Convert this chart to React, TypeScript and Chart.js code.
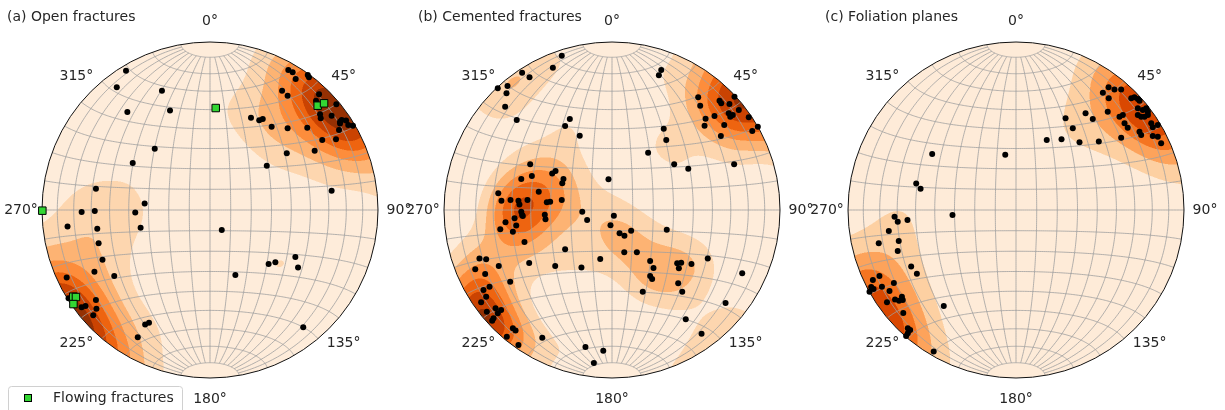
import React, { useEffect, useRef } from "react";
import { Chart, registerables } from "chart.js";

Chart.register(...registerables);

// ---------- data (equal-area net coordinates, unit primitive circle) ----------
const azimuths = [0, 45, 90, 135, 180, 225, 270, 315];
const azimuthLabels = ["0°", "45°", "90°", "135°", "180°", "225°", "270°", "315°"];
const panelTitles = ["(a) Open fractures", "(b) Cemented fractures", "(c) Foliation planes"];
const legendLabel = "Flowing fractures";

const openX = [-0.5, -0.555, -0.286, -0.492, -0.238, 0.466, 0.492, 0.51, 0.582, 0.589, 0.429, 0.462, 0.649, 0.631, 0.752, 0.655, 0.659, 0.724, 0.774, 0.784, 0.81, 0.774, 0.823, 0.851, 0.768, 0.244, 0.293, 0.314, 0.367, 0.462, 0.579, 0.668, 0.75, 0.457, 0.623, 0.338, -0.329, -0.46, 0.724, -0.679, -0.389, -0.764, -0.686, -0.445, -0.848, -0.671, -0.413, -0.663, -0.64, -0.688, -0.57, -0.853, -0.842, -0.764, -0.741, -0.679, -0.676, -0.695, -0.386, -0.363, -0.43, 0.07, 0.151, 0.349, 0.389, 0.508, 0.524, 0.555];
const openY = [0.829, 0.73, 0.71, 0.583, 0.593, 0.833, 0.82, 0.78, 0.804, 0.79, 0.71, 0.68, 0.689, 0.651, 0.629, 0.57, 0.546, 0.561, 0.526, 0.536, 0.532, 0.515, 0.506, 0.502, 0.476, 0.549, 0.534, 0.542, 0.496, 0.486, 0.49, 0.417, 0.421, 0.338, 0.353, 0.264, 0.365, 0.28, 0.115, 0.127, 0.038, -0.012, -0.006, -0.015, -0.098, -0.111, -0.105, -0.198, -0.296, -0.367, -0.393, -0.402, -0.526, -0.579, -0.571, -0.536, -0.588, -0.627, -0.682, -0.671, -0.758, -0.119, -0.387, -0.321, -0.311, -0.28, -0.343, -0.698];

const flowingX = [0.034, 0.641, 0.679, -0.998, -0.814, -0.798, -0.813];
const flowingY = [0.607, 0.621, 0.635, -0.004, -0.516, -0.518, -0.56];

const cementedX = [-0.299, -0.352, -0.535, -0.491, -0.68, -0.622, -0.628, -0.636, -0.567, -0.251, -0.279, -0.192,
  0.293, 0.279, 0.308, 0.323, 0.215, 0.37, 0.454, 0.727, -0.021,
  0.513, 0.525, 0.64, 0.65, 0.699, 0.729, 0.557, 0.61, 0.695, 0.704, 0.719, 0.755, 0.668, 0.551, 0.814, 0.868, 0.835, 0.648,
  -0.487, -0.54, -0.477, -0.356, -0.336, -0.289, -0.296, -0.436, -0.677, -0.658, -0.604, -0.557, -0.551, -0.503, -0.388, -0.368, -0.299, -0.54, -0.535, -0.531, -0.4, -0.396, -0.634, -0.58, -0.665, -0.59, -0.57, -0.521, -0.279,
  -0.177, -0.148, 0.011, -0.009, 0.045, 0.074, 0.114, 0.326, 0.073, 0.148, -0.07, -0.182, -0.338, -0.493, 0.227, 0.247, 0.227, 0.239, 0.183, 0.388, 0.412, 0.398, 0.473, 0.57, 0.394, 0.418, 0.775, 0.676, 0.439, 0.533, -0.158, -0.052, -0.108, -0.415,
  -0.789, -0.749, -0.814, -0.674, -0.755, -0.729, -0.765, -0.606, -0.749, -0.779, -0.693, -0.66, -0.68, -0.705, -0.713, -0.745, -0.59, -0.574, -0.626, -0.557];
const cementedY = [0.918, 0.847, 0.817, 0.79, 0.724, 0.738, 0.695, 0.615, 0.536, 0.542, 0.5, 0.442,
  0.833, 0.802, 0.484, 0.417, 0.341, 0.272, 0.246, 0.272, 0.183,
  0.671, 0.621, 0.651, 0.635, 0.631, 0.674, 0.543, 0.56, 0.576, 0.555, 0.565, 0.595, 0.506, 0.502, 0.552, 0.496, 0.47, 0.44,
  0.272, 0.185, 0.202, 0.218, 0.232, 0.185, 0.159, 0.109, 0.099, 0.055, 0.06, 0.055, 0.032, 0.06, 0.046, 0.049, 0.06, -0.01, -0.03, -0.036, -0.028, -0.055, -0.073, -0.049, -0.115, -0.129, -0.093, -0.19, -0.234,
  -0.01, -0.06, -0.034, -0.091, -0.139, -0.153, -0.123, -0.117, -0.252, -0.252, -0.292, -0.343, -0.333, -0.315, -0.304, -0.345, -0.393, -0.411, -0.486, -0.317, -0.314, -0.347, -0.321, -0.288, -0.436, -0.486, -0.377, -0.554, -0.651, -0.736, -0.815, -0.838, -0.911, -0.76,
  -0.288, -0.293, -0.353, -0.333, -0.381, -0.457, -0.476, -0.427, -0.516, -0.549, -0.585, -0.595, -0.615, -0.645, -0.659, -0.605, -0.704, -0.718, -0.754, -0.804];

const foliationX = [0.551, 0.586, 0.626, 0.517, 0.552, 0.686, 0.705, 0.725, 0.735, 0.546, 0.636, 0.616, 0.725, 0.755, 0.775, 0.785, 0.725, 0.745, 0.765, 0.785, 0.646, 0.665, 0.805, 0.814, 0.844, 0.735, 0.745, 0.814, 0.844, 0.864, 0.626, 0.295, 0.414, 0.457, 0.338, 0.183, 0.271, 0.378, 0.493, -0.499, -0.064, -0.594, -0.568, -0.723, -0.704, -0.646, -0.378, -0.757, -0.817, -0.698, -0.704, -0.624, -0.59, -0.43, -0.813, -0.852, -0.862, -0.848, -0.798, -0.727, -0.753, -0.768, -0.72, -0.696, -0.679, -0.674, -0.671, -0.644, -0.63, -0.644, -0.654, -0.49, -0.872];
const foliationY = [0.73, 0.718, 0.718, 0.698, 0.665, 0.665, 0.671, 0.661, 0.651, 0.585, 0.565, 0.555, 0.605, 0.595, 0.605, 0.585, 0.565, 0.555, 0.555, 0.565, 0.516, 0.49, 0.516, 0.492, 0.506, 0.466, 0.446, 0.44, 0.436, 0.397, 0.43, 0.546, 0.576, 0.542, 0.486, 0.417, 0.421, 0.403, 0.407, 0.333, 0.329, 0.157, 0.127, -0.04, -0.07, -0.06, -0.03, -0.125, -0.198, -0.185, -0.244, -0.336, -0.379, -0.571, -0.393, -0.417, -0.458, -0.47, -0.457, -0.435, -0.482, -0.549, -0.532, -0.54, -0.516, -0.536, -0.613, -0.704, -0.714, -0.734, -0.75, -0.843, -0.486];

// ---------- helpers ----------
const FONT = '14px "DejaVu Sans", sans-serif';
const TEXT = "#262626";
const GRID = "#a0a0a0";
const ORANGES = [
  [255, 245, 235], [254, 230, 206], [253, 208, 162], [253, 174, 107], [253, 141, 60],
  [241, 105, 19], [217, 72, 1], [166, 54, 3], [127, 39, 4],
];
function oranges(t: number) {
  const p = Math.max(0, Math.min(1, t)) * 8;
  const i = Math.min(7, Math.floor(p));
  const f = p - i;
  const a = ORANGES[i], b = ORANGES[i + 1];
  return [a[0] + (b[0] - a[0]) * f, a[1] + (b[1] - a[1]) * f, a[2] + (b[2] - a[2]) * f];
}
function toVec(x: number, y: number) {
  const r = Math.hypot(x, y);
  if (r < 1e-9) return [0, 0, 1];
  const rr = Math.min(r, 1);
  const th = 2 * Math.asin(rr / Math.SQRT2);
  const s = Math.sin(th) / r;
  return [x * s, y * s, Math.cos(th)];
}
function niceLevels(zmin: number, zmax: number, nbins = 8) {
  const raw = (zmax - zmin) / nbins;
  const scale = Math.pow(10, Math.floor(Math.log10(raw)));
  const steps = [1, 2, 2.5, 5, 10];
  let step = 10 * scale;
  for (const s of steps) {
    if (s * scale >= raw - 1e-12) { step = s * scale; break; }
  }
  const lo = Math.floor(zmin / step) * step;
  const hi = Math.ceil(zmax / step) * step;
  const lv: number[] = [];
  for (let v = lo; v <= hi + step * 1e-6; v += step) lv.push(v);
  return lv;
}
function project(latDeg: number, lonDeg: number) {
  const la = (latDeg * Math.PI) / 180, lo = (lonDeg * Math.PI) / 180;
  const k = Math.sqrt(1 + Math.cos(la) * Math.cos(lo));
  return [(Math.cos(la) * Math.sin(lo)) / k, Math.sin(la) / k];
}

function drawDensity(chart: any, xs: number[], ys: number[]) {
  const { ctx, chartArea, scales } = chart;
  const sx = scales.x, sy = scales.y;
  const L = Math.floor(chartArea.left), T = Math.floor(chartArea.top);
  const w = Math.ceil(chartArea.right) - L, h = Math.ceil(chartArea.bottom) - T;
  const n = Math.min(xs.length, ys.length);
  const vx = new Float64Array(n), vy = new Float64Array(n), vz = new Float64Array(n);
  for (let k = 0; k < n; k++) {
    const v = toVec(xs[k], ys[k]);
    vx[k] = v[0]; vy[k] = v[1]; vz[k] = v[2];
  }
  const f = 2 * (1 + n / 9);
  const units = Math.sqrt((n * (f / 2 - 1)) / (f * f));
  const W = w + 1, H = h + 1;
  const D = new Float32Array(W * H);
  let zmin = Infinity, zmax = -Infinity;
  for (let j = 0; j < H; j++) {
    const py0 = sy.getValueForPixel(T + j);
    for (let i = 0; i < W; i++) {
      const px0 = sx.getValueForPixel(L + i);
      const r = Math.hypot(px0, py0);
      let px = px0, py = py0;
      if (r > 1) { px /= r; py /= r; }
      const v = toVec(px, py);
      let s = 0;
      for (let k = 0; k < n; k++) {
        const c = Math.abs(v[0] * vx[k] + v[1] * vy[k] + v[2] * vz[k]);
        s += Math.exp(f * (c - 1));
      }
      let d = (s - 0.5) / units;
      if (d < 0) d = 0;
      D[j * W + i] = d;
      if (r <= 1) { if (d < zmin) zmin = d; if (d > zmax) zmax = d; }
    }
  }
  const lv = niceLevels(zmin, zmax);
  const nb = lv.length - 1;
  const step = lv[1] - lv[0];
  const cols = [];
  for (let k = 0; k < nb; k++) cols.push(oranges((k + 0.5) / nb));
  const off = document.createElement("canvas");
  off.width = w; off.height = h;
  const octx = off.getContext("2d")!;
  const img = octx.createImageData(w, h);
  const subs = [0.25, 0.75];
  for (let j = 0; j < h; j++) {
    for (let i = 0; i < w; i++) {
      const a = D[j * W + i], b = D[j * W + i + 1], c = D[(j + 1) * W + i], d = D[(j + 1) * W + i + 1];
      let R = 0, G = 0, B = 0;
      for (const fy of subs) for (const fx of subs) {
        const val = (a * (1 - fx) + b * fx) * (1 - fy) + (c * (1 - fx) + d * fx) * fy;
        let k = Math.floor((val - lv[0]) / step);
        if (k < 0) k = 0; if (k > nb - 1) k = nb - 1;
        R += cols[k][0]; G += cols[k][1]; B += cols[k][2];
      }
      const o = (j * w + i) * 4;
      img.data[o] = R / 4; img.data[o + 1] = G / 4; img.data[o + 2] = B / 4; img.data[o + 3] = 255;
    }
  }
  octx.putImageData(img, 0, 0);
  const cx = sx.getPixelForValue(0), cy = sy.getPixelForValue(0);
  const rad = sx.getPixelForValue(1) - cx;
  ctx.save();
  ctx.beginPath();
  ctx.arc(cx, cy, rad, 0, Math.PI * 2);
  ctx.clip();
  ctx.drawImage(off, L, T);
  ctx.restore();
}

function drawGrid(chart: any) {
  const { ctx, scales } = chart;
  const sx = scales.x, sy = scales.y;
  ctx.save();
  ctx.strokeStyle = GRID;
  ctx.lineWidth = 0.8;
  for (let lon = -80; lon <= 80; lon += 10) {
    ctx.beginPath();
    for (let lat = -80; lat <= 80; lat += 1) {
      const [X, Y] = project(lat, lon);
      const px = sx.getPixelForValue(X), py = sy.getPixelForValue(Y);
      if (lat === -80) ctx.moveTo(px, py); else ctx.lineTo(px, py);
    }
    ctx.stroke();
  }
  for (let lat = -80; lat <= 80; lat += 10) {
    ctx.beginPath();
    for (let lon = -90; lon <= 90; lon += 1) {
      const [X, Y] = project(lat, lon);
      const px = sx.getPixelForValue(X), py = sy.getPixelForValue(Y);
      if (lon === -90) ctx.moveTo(px, py); else ctx.lineTo(px, py);
    }
    ctx.stroke();
  }
  ctx.restore();
  const cx = sx.getPixelForValue(0), cy = sy.getPixelForValue(0);
  const rad = sx.getPixelForValue(1) - cx;
  ctx.save();
  ctx.beginPath();
  ctx.arc(cx, cy, rad, 0, Math.PI * 2);
  ctx.strokeStyle = "#111";
  ctx.lineWidth = 1;
  ctx.stroke();
  ctx.restore();
}

type PanelCfg = {
  left: number;
  title: string;
  titleX: number;
  xs: number[];
  ys: number[];
  gx?: number[];
  gy?: number[];
};

function makePlugin(cfg: PanelCfg) {
  return {
    id: "stereonet",
    beforeDatasetsDraw(chart: any) {
      const dx = cfg.gx ? cfg.xs.concat(cfg.gx) : cfg.xs;
      const dy = cfg.gy ? cfg.ys.concat(cfg.gy) : cfg.ys;
      drawDensity(chart, dx, dy);
      drawGrid(chart);
    },
    afterDraw(chart: any) {
      const { ctx, scales } = chart;
      const sx = scales.x, sy = scales.y;
      ctx.save();
      ctx.font = FONT;
      ctx.fillStyle = TEXT;
      ctx.textAlign = "center";
      ctx.textBaseline = "middle";
      azimuths.forEach((az, i) => {
        const a = (az * Math.PI) / 180;
        ctx.fillText(azimuthLabels[i], sx.getPixelForValue(1.125 * Math.sin(a)), sy.getPixelForValue(1.125 * Math.cos(a)));
      });
      ctx.textAlign = "left";
      ctx.fillText(cfg.title, cfg.titleX, 17);
      if (cfg.gx) {
        // legend
        ctx.beginPath();
        const x0 = 8.5, y0 = 386.5, w = 174, h = 30, r = 3;
        ctx.moveTo(x0 + r, y0);
        ctx.lineTo(x0 + w - r, y0);
        ctx.arcTo(x0 + w, y0, x0 + w, y0 + r, r);
        ctx.lineTo(x0 + w, y0 + h);
        ctx.lineTo(x0, y0 + h);
        ctx.lineTo(x0, y0 + r);
        ctx.arcTo(x0, y0, x0 + r, y0, r);
        ctx.closePath();
        ctx.fillStyle = "rgba(255,255,255,0.85)";
        ctx.fill();
        ctx.strokeStyle = "#d0d0d0";
        ctx.lineWidth = 1;
        ctx.stroke();
        ctx.fillStyle = "#33d633";
        ctx.fillRect(24.5, 394.5, 7, 7);
        ctx.strokeStyle = "#000";
        ctx.strokeRect(24.5, 394.5, 7, 7);
        ctx.fillStyle = TEXT;
        ctx.fillText(legendLabel, 53, 398.5);
      }
      ctx.restore();
    },
  };
}

function Panel(props: PanelCfg) {
  const ref = useRef<HTMLCanvasElement>(null);
  useEffect(() => {
    const cfg = props;
    const pts = (xs: number[], ys: number[]) => xs.map((x, i) => ({ x, y: ys[i] }));
    const datasets: any[] = [
      {
        label: "poles",
        data: pts(cfg.xs, cfg.ys),
        pointRadius: 3,
        pointHoverRadius: 3,
        pointBackgroundColor: "#000",
        pointBorderWidth: 0,
        clip: false,
        order: 2,
      },
    ];
    if (cfg.gx && cfg.gy) {
      datasets.push({
        label: legendLabel,
        data: pts(cfg.gx, cfg.gy),
        pointStyle: "rect",
        pointRadius: 5.3,
        pointHoverRadius: 5.3,
        pointBackgroundColor: "#33d633",
        pointBorderColor: "#000",
        pointBorderWidth: 1,
        clip: false,
        order: 1,
      });
    }
    const chart = new Chart(ref.current!, {
      type: "scatter",
      data: { datasets },
      options: {
        animation: false,
        responsive: false,
        maintainAspectRatio: false,
        events: [],
        layout: { padding: { left: 42, right: 42, top: 42, bottom: 32 } },
        scales: {
          x: { type: "linear", min: -1, max: 1, display: false },
          y: { type: "linear", min: -1, max: 1, display: false },
        },
        plugins: { legend: { display: false }, tooltip: { enabled: false }, title: { display: false } },
      },
      plugins: [makePlugin(cfg)],
    } as any);
    return () => chart.destroy();
  }, []);
  return (
    <canvas
      ref={ref}
      width={420}
      height={410}
      style={{ position: "absolute", left: props.left, top: 0, width: 420, height: 410 }}
    />
  );
}

export default function App() {
  return (
    <div style={{ position: "fixed", left: 0, top: 0, width: 1225, height: 410, background: "#fff", overflow: "hidden" }}>
      <Panel left={0} title={panelTitles[0]} titleX={7} xs={openX} ys={openY} gx={flowingX} gy={flowingY} />
      <Panel left={402} title={panelTitles[1]} titleX={16} xs={cementedX} ys={cementedY} />
      <Panel left={806} title={panelTitles[2]} titleX={19} xs={foliationX} ys={foliationY} />
    </div>
  );
}
